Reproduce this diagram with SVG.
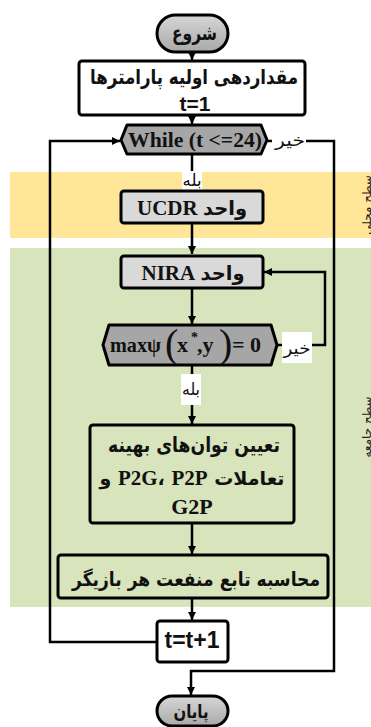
<svg xmlns="http://www.w3.org/2000/svg" width="371" height="727" viewBox="0 0 371 727">
<style>
.box{stroke:#000;stroke-width:3;stroke-linejoin:round}
.ln{fill:none;stroke:#000;stroke-width:2.5;stroke-linejoin:miter}
.fa{font-family:"DejaVu Sans",sans-serif;font-weight:bold;fill:#111}
.fl{font-family:"DejaVu Sans",sans-serif;font-weight:normal;fill:#111;font-size:17px}
.fs{font-family:"Liberation Serif","DejaVu Sans",serif;font-weight:bold;fill:#111}
.fn{font-family:"Liberation Sans","DejaVu Sans",sans-serif;font-weight:bold;fill:#111}
.side{font-family:"DejaVu Sans",sans-serif;font-size:12px;fill:#222}
</style>
<defs>
<marker id="ar" markerUnits="userSpaceOnUse" markerWidth="9" markerHeight="8" refX="8" refY="4" orient="auto">
<path d="M0,0 L8,4 L0,8 z" fill="#000"/>
</marker>
<linearGradient id="pill" x1="0" y1="0" x2="0" y2="1">
<stop offset="0" stop-color="#d6d6d6"/>
<stop offset="1" stop-color="#a9a9a9"/>
</linearGradient>
</defs>

<g id="bands">
<rect x="10" y="172" width="361" height="66" fill="#FFE699"/>
<rect x="10" y="248" width="361" height="359" fill="#D8E4BC"/>
<text class="side" transform="translate(371,205) rotate(-90)" text-anchor="middle" direction="rtl">سطح محلی</text>
<text class="side" transform="translate(371,427) rotate(-90)" text-anchor="middle" direction="rtl">سطح جامعه</text>
</g>

<g id="connectors">
<path class="ln" d="M192,52 V60" marker-end="url(#ar)"/>
<path class="ln" d="M192,115 V124" marker-end="url(#ar)"/>
<path class="ln" d="M192,154 V190" marker-end="url(#ar)"/>
<path class="ln" d="M192,223 V254" marker-end="url(#ar)"/>
<path class="ln" d="M192,288 V324" marker-end="url(#ar)"/>
<path class="ln" d="M192,366 V424" marker-end="url(#ar)"/>
<path class="ln" d="M277,345 H325 V272 H264" marker-end="url(#ar)"/>
<path class="ln" d="M192,523 V554" marker-end="url(#ar)"/>
<path class="ln" d="M192,598 V620" marker-end="url(#ar)"/>
<path class="ln" d="M157,642 H50 V141 H120" marker-end="url(#ar)"/>
<path class="ln" d="M267,141 H334 V671 H191 V695" marker-end="url(#ar)"/>
<rect x="272" y="131" width="34" height="20" fill="#fff"/>
<text class="fl" x="290" y="146" text-anchor="middle" direction="rtl" textLength="30" lengthAdjust="spacingAndGlyphs">خیر</text>
<rect x="182" y="171" width="20" height="19" fill="#fff"/>
<text class="fl" x="192" y="186" text-anchor="middle" direction="rtl" textLength="19" lengthAdjust="spacingAndGlyphs">بله</text>
<rect x="282" y="332" width="30" height="31" fill="#fff"/>
<text class="fl" x="297" y="354" text-anchor="middle" direction="rtl" textLength="27" lengthAdjust="spacingAndGlyphs">خیر</text>
<rect x="181" y="374" width="20" height="31" fill="#fff"/>
<text class="fl" x="191" y="395" text-anchor="middle" direction="rtl" textLength="18" lengthAdjust="spacingAndGlyphs">بله</text>
</g>

<g id="start">
<rect class="box" x="157" y="15" width="71" height="37" rx="18.5" fill="url(#pill)"/>
<text class="fa" x="194.5" y="40" font-size="20" text-anchor="middle" direction="rtl" textLength="45" lengthAdjust="spacingAndGlyphs">شروع</text>
</g>

<g id="init">
<rect class="box" x="79" y="61" width="226" height="54" rx="3" fill="#fff"/>
<text class="fa" x="194" y="84" font-size="20" text-anchor="middle" direction="rtl" textLength="208" lengthAdjust="spacingAndGlyphs">مقداردهی اولیه پارامترها</text>
<text class="fn" x="195" y="111" font-size="21" text-anchor="middle">t=1</text>
</g>

<g id="while">
<path class="box" d="M121,140 L127,125 H261 L267,140 L261,154 H127 Z" fill="#A6A6A6"/>
<text class="fs" x="195" y="147" font-size="20" text-anchor="middle" textLength="134" lengthAdjust="spacingAndGlyphs">While (t &lt;=24)</text>
</g>

<g id="ucdr">
<rect class="box" x="121" y="191" width="142" height="32" rx="3" fill="#D9D9D9"/>
<text class="fs" x="192" y="215" font-size="21" text-anchor="middle" direction="rtl"><tspan class="fa" font-size="19.5">واحد</tspan> UCDR</text>
</g>

<g id="nira">
<rect class="box" x="121" y="256" width="142" height="32" rx="3" fill="#D9D9D9"/>
<text class="fs" x="193" y="280" font-size="21" text-anchor="middle" direction="rtl"><tspan class="fa" font-size="19.5">واحد</tspan> NIRA</text>
</g>

<g id="check">
<path class="box" d="M103,345 L109,325 H271 L277,345 L271,365 H109 Z" fill="#A6A6A6"/>
<text class="fs" y="352" font-size="22"><tspan x="110" textLength="51" lengthAdjust="spacingAndGlyphs">maxψ</tspan><tspan x="165" y="357" font-size="40" font-weight="normal">(</tspan><tspan x="177" y="352">x</tspan><tspan x="191" y="342" font-size="14">*</tspan><tspan x="197" y="352">,y</tspan><tspan x="219" y="357" font-size="40" font-weight="normal">)</tspan><tspan x="232" y="352">= 0</tspan></text>
</g>

<g id="optimal">
<rect class="box" x="90" y="425" width="204" height="98" rx="3" fill="#D8E4BC"/>
<text class="fa" x="194" y="452" font-size="21" text-anchor="middle" direction="rtl" textLength="172" lengthAdjust="spacingAndGlyphs">تعیین توان‌های بهینه</text>
<text class="fa" x="192" y="485" font-size="19" text-anchor="middle" direction="rtl">تعاملات <tspan class="fs" font-size="21">P2P</tspan>&#x200F; ،&#x200F;<tspan class="fs" font-size="21">P2G</tspan> و</text>
<text class="fs" x="192" y="514" font-size="22" text-anchor="middle">G2P</text>
</g>

<g id="payoff">
<rect class="box" x="58" y="555" width="270" height="43" rx="3" fill="#D8E4BC"/>
<text class="fa" x="196" y="586" font-size="19.5" text-anchor="middle" direction="rtl" textLength="248" lengthAdjust="spacingAndGlyphs">محاسبه تابع منفعت هر بازیگر</text>
</g>

<g id="increment">
<rect class="box" x="157" y="621" width="71" height="41" rx="3" fill="#fff"/>
<text class="fn" x="192" y="648" font-size="23" text-anchor="middle">t=t+1</text>
</g>

<g id="end">
<rect class="box" x="157" y="696" width="71" height="30" rx="15" fill="url(#pill)"/>
<text class="fa" x="191" y="718" font-size="19" text-anchor="middle" direction="rtl" textLength="35" lengthAdjust="spacingAndGlyphs">پایان</text>
</g>
</svg>
